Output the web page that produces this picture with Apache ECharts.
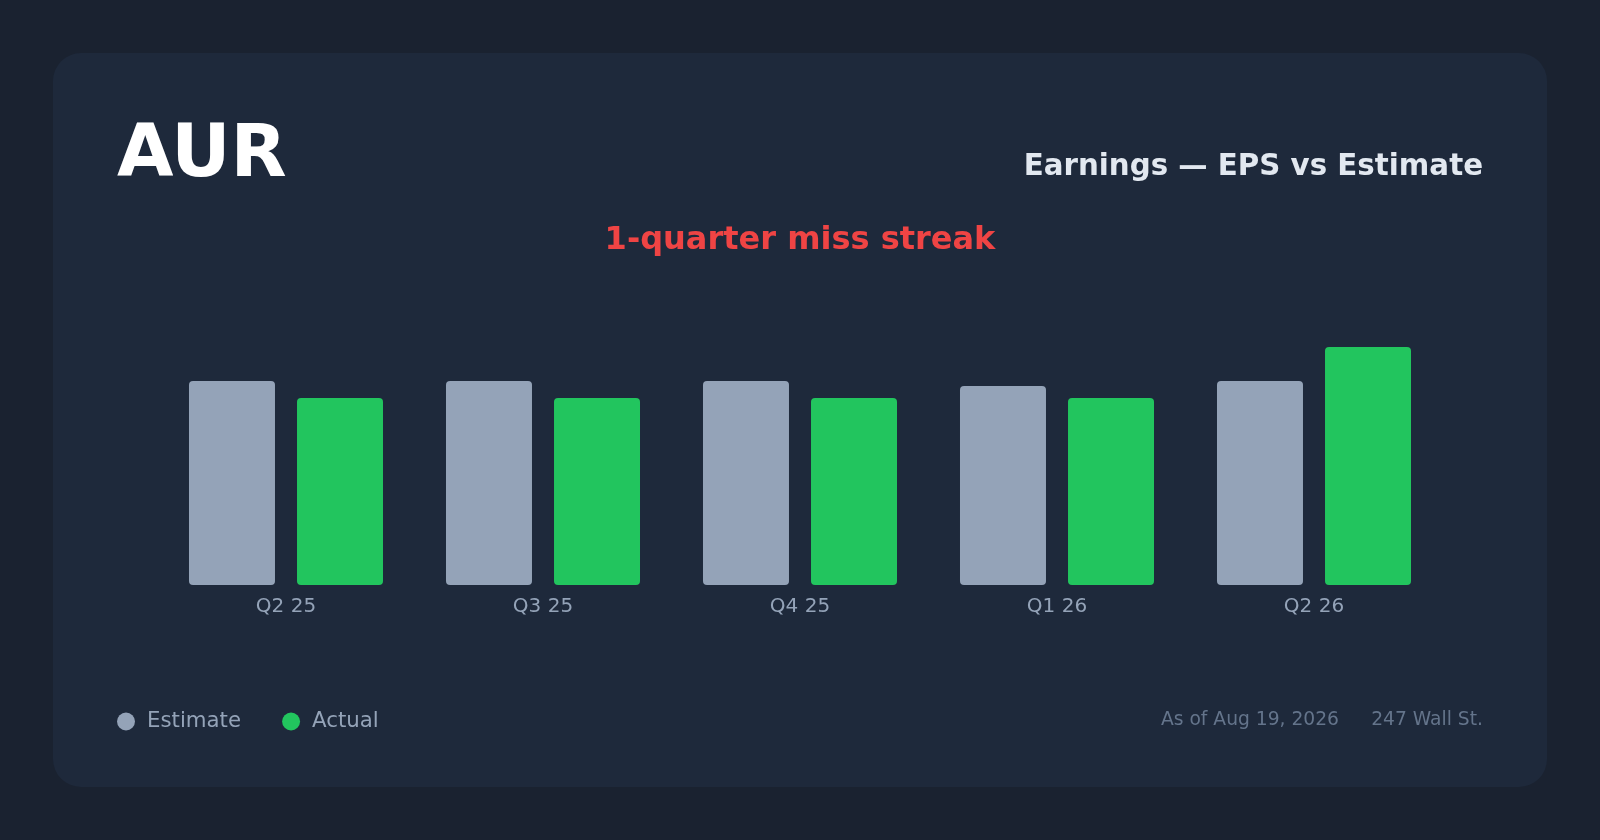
<!DOCTYPE html>
<html>
<head>
<meta charset="utf-8">
<title>AUR earnings</title>
<script src="https://cdn.jsdelivr.net/npm/echarts@6/dist/echarts.min.js"></script>
<style>
    html, body { margin: 0; padding: 0; background: #1a2230; }
    #main { width: 1600px; height: 840px; }
</style>
</head>
<body>
<div id="main"></div>
<script>
// quarters and EPS (loss per share, shown as size of the loss)
const quarters = ['Q2 25', 'Q3 25', 'Q4 25', 'Q1 26', 'Q2 26'];
const estimate = [0.12, 0.12, 0.12, 0.117, 0.12];
const actual = [0.11, 0.11, 0.11, 0.11, 0.14];

const font = 'DejaVu Sans';
let myChart = echarts.init(document.getElementById('main'));

let option = {
    backgroundColor: '#1a2230',
    animation: false,
    textStyle: { fontFamily: font },
    grid: {
        left: 157.5,
        right: 157.5,
        top: 245,
        bottom: 255
    },
    xAxis: {
        type: 'category',
        data: quarters,
        axisLine: { show: false },
        axisTick: { show: false },
        splitLine: { show: false },
        axisLabel: {
            color: '#94a3b8',
            fontSize: 20,
            fontFamily: font,
            margin: 12
        }
    },
    yAxis: {
        type: 'value',
        min: 0,
        max: 0.2,
        show: false
    },
    legend: {
        left: 112,
        top: 706,
        icon: 'circle',
        itemWidth: 18,
        itemHeight: 18,
        itemGap: 41,
        textStyle: {
            color: '#94a3b8',
            fontSize: 21.3,
            fontFamily: font,
            padding: [0, 0, 0, 7]
        },
        data: ['Estimate', 'Actual']
    },
    series: [
        {
            name: 'Estimate',
            type: 'bar',
            data: estimate,
            barWidth: 86,
            barGap: '25.6%',
            itemStyle: { color: '#94a3b8', borderRadius: 4 }
        },
        {
            name: 'Actual',
            type: 'bar',
            data: actual,
            barWidth: 86,
            itemStyle: { color: '#22c55e', borderRadius: 4 }
        }
    ],
    graphic: [
        {
            type: 'rect',
            z: -10,
            silent: true,
            shape: { x: 53, y: 53, width: 1494, height: 734, r: 28 },
            style: { fill: '#1e293b' }
        },
        {
            type: 'text',
            left: 117,
            top: 121,
            style: {
                text: 'AUR',
                fill: '#ffffff',
                font: 'bold 73px "DejaVu Sans"'
            }
        },
        {
            type: 'text',
            x: 1483,
            y: 167,
            style: {
                text: 'Earnings — EPS vs Estimate',
                fill: '#e2e8f0',
                font: 'bold 29.3px "DejaVu Sans"',
                align: 'right',
                verticalAlign: 'middle'
            }
        },
        {
            type: 'text',
            x: 800,
            y: 241,
            style: {
                text: '1-quarter miss streak',
                fill: '#ef4444',
                font: 'bold 32px "DejaVu Sans"',
                align: 'center',
                verticalAlign: 'middle'
            }
        },
        {
            type: 'text',
            x: 1483,
            y: 720,
            style: {
                text: '247 Wall St.',
                fill: '#64748b',
                font: '18.7px "DejaVu Sans"',
                align: 'right',
                verticalAlign: 'middle'
            }
        },
        {
            type: 'text',
            x: 1339,
            y: 720,
            style: {
                text: 'As of Aug 19, 2026',
                fill: '#64748b',
                font: '18.7px "DejaVu Sans"',
                align: 'right',
                verticalAlign: 'middle'
            }
        }
    ]
};
myChart.setOption(option);
</script>
</body>
</html>
